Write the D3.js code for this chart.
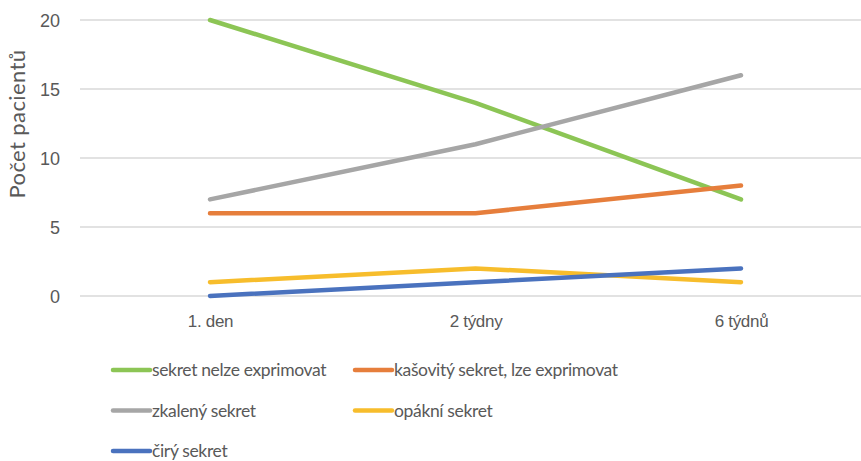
<!DOCTYPE html>
<html>
<head>
<meta charset="utf-8">
<script src="https://cdn.jsdelivr.net/npm/d3@7"></script>
<style>
  body { margin: 0; background: #fff; }
  svg { display: block; font-family: Lato, "Open Sans", sans-serif; }
  .tick text { fill: #595959; }
</style>
</head>
<body>
<div id="chart"></div>
<script>
// categories and series
const categories = ['1. den', '2 týdny', '6 týdnů'];
const yTicks = [0, 5, 10, 15, 20];
const seriesNames = ['sekret nelze exprimovat', 'kašovitý sekret, lze exprimovat', 'zkalený sekret', 'opákní sekret', 'čirý sekret'];
const seriesColors = ['#8cc555', '#e67e3c', '#a6a6a6', '#f7bd2c', '#4a72be'];
const nelze = [20, 14, 7];
const kasovity = [6, 6, 8];
const zkaleny = [7, 11, 16];
const opakni = [1, 2, 1];
const ciry = [0, 1, 2];

const seriesValues = [nelze, kasovity, zkaleny, opakni, ciry];

const width = 861, height = 461;
const svg = d3.select('#chart').append('svg')
  .attr('width', width).attr('height', height);

// category centres sit in equal bands, the right one runs past the crop
const x = d3.scalePoint().domain(categories).range([210, 741]);
const y = d3.scaleLinear().domain([0, 20]).range([296, 20]);

// gridlines
svg.append('g')
  .selectAll('line')
  .data(yTicks)
  .enter()
  .append('line')
  .attr('x1', 80).attr('x2', width)
  .attr('y1', d => y(d)).attr('y2', d => y(d))
  .attr('stroke', '#d9d9d9').attr('stroke-width', 1.3);

// y axis labels
const yAxis = svg.append('g')
  .attr('transform', 'translate(60,0)')
  .call(d3.axisLeft(y).tickValues(yTicks).tickSize(0).tickPadding(0));
yAxis.select('.domain').remove();
yAxis.selectAll('text').attr('font-size', 18).attr('dy', '0.35em');

// x axis labels
const xAxis = svg.append('g')
  .attr('transform', 'translate(0,296)')
  .call(d3.axisBottom(x).tickSize(0).tickPadding(21));
xAxis.select('.domain').remove();
xAxis.selectAll('text').attr('font-size', 17).attr('dy', '0.6em').attr('letter-spacing', -0.3);

// axis title
svg.append('text')
  .attr('transform', 'translate(25,' + 124 + ') rotate(-90)')
  .attr('text-anchor', 'middle')
  .attr('font-size', 22)
  .attr('letter-spacing', 0.4)
  .attr('fill', '#595959')
  .text('Počet pacientů');

// lines
const line = d3.line()
  .x((d, i) => x(categories[i]))
  .y(d => y(d));

svg.append('g')
  .selectAll('path')
  .data(seriesValues)
  .enter()
  .append('path')
  .attr('d', line)
  .attr('fill', 'none')
  .attr('stroke', (d, i) => seriesColors[i])
  .attr('stroke-width', 4.5)
  .attr('stroke-linecap', 'round')
  .attr('stroke-linejoin', 'round');

// legend, two columns
const legend = svg.append('g')
  .selectAll('g')
  .data(seriesNames)
  .enter()
  .append('g')
  .attr('transform', (d, i) => 'translate(' + (i % 2 === 0 ? 113 : 355) + ',' + (370 + Math.floor(i / 2) * 40.5) + ')');

legend.append('line')
  .attr('x1', 0).attr('x2', 37)
  .attr('stroke', (d, i) => seriesColors[i])
  .attr('stroke-width', 4.5)
  .attr('stroke-linecap', 'round');

legend.append('text')
  .attr('x', 39)
  .attr('dy', '0.35em')
  .attr('font-size', 17.5)
  .attr('letter-spacing', -0.35)
  .attr('fill', '#595959')
  .text(d => d);
</script>
</body>
</html>
